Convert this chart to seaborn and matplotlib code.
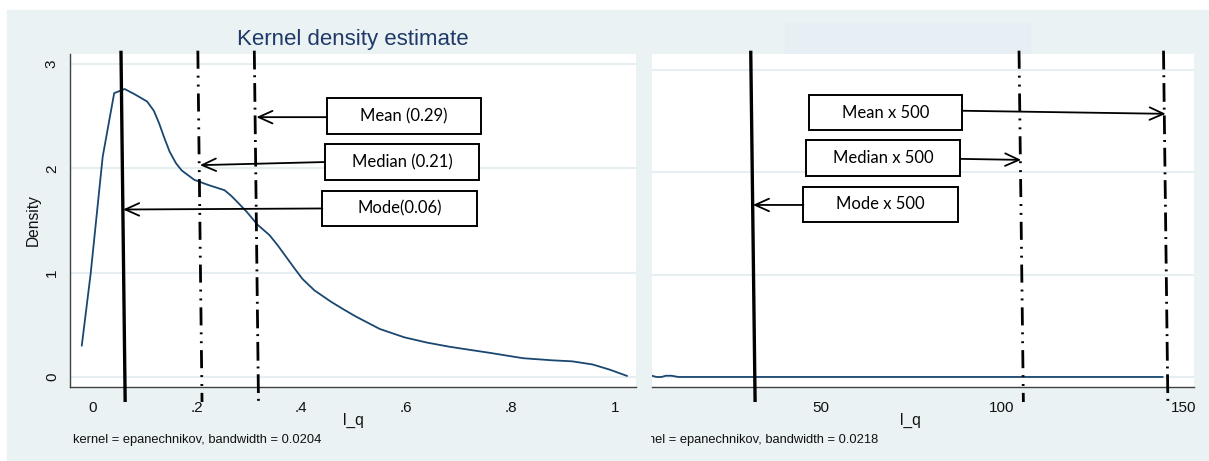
import matplotlib
matplotlib.use("Agg")
import matplotlib.pyplot as plt
import seaborn as sns
from matplotlib.patches import Rectangle
from matplotlib.transforms import Bbox, TransformedBbox

# Density curve of l_q (left panel)
lq_x = [-0.020, -0.003, 0.020, 0.042, 0.062, 0.081, 0.105, 0.118, 0.128, 0.138,
        0.148, 0.160, 0.171, 0.195, 0.222, 0.253, 0.265, 0.277, 0.296, 0.316,
        0.339, 0.355, 0.371, 0.387, 0.402, 0.425, 0.457, 0.480, 0.504, 0.550,
        0.597, 0.640, 0.683, 0.762, 0.824, 0.879, 0.918, 0.957, 0.990, 1.023]
lq_density = [0.30, 0.99, 2.11, 2.72, 2.76, 2.71, 2.64, 2.55, 2.43, 2.29,
              2.16, 2.05, 1.98, 1.89, 1.84, 1.79, 1.74, 1.68, 1.58, 1.46,
              1.36, 1.26, 1.15, 1.04, 0.94, 0.83, 0.72, 0.65, 0.58, 0.46,
              0.38, 0.33, 0.29, 0.23, 0.18, 0.16, 0.15, 0.12, 0.07, 0.01]

# Density curve of l_q x 500 (right panel, cropped)
lq500_x = [3.6, 4.8, 6.2, 7.4, 9.0, 10.8, 144.3]
lq500_density = [0.012, 0.0, 0.0, 0.012, 0.012, 0.0, 0.0]

# Mode, median, mean markers
stat_names = ["Mode", "Median", "Mean"]
left_stat_pos = [0.059, 0.206, 0.314]
left_labels = ["Mode(0.06)", "Median (0.21)", "Mean (0.29)"]
right_stat_pos = [31.4, 105.3, 145.1]
right_labels = ["Mode x 500", "Median x 500", "Mean x 500"]

left_xticks = [0, 0.2, 0.4, 0.6, 0.8, 1]
left_xticklabels = ["0", ".2", ".4", ".6", ".8", "1"]
left_yticks = [0, 1, 2, 3]
right_xticks = [50, 100, 150]

# layout for the label boxes: (x0, x1, y0, y1, arrow_start_y, arrow_end_y)
left_boxes = [(0.440, 0.735, 1.449, 1.784, 1.615, 1.605),
              (0.445, 0.740, 1.887, 2.232, 2.06, 2.03),
              (0.449, 0.744, 2.325, 2.670, 2.49, 2.49)]
right_boxes = [(45.3, 87.8, 1.51, 1.86, 1.68, 1.68),
               (46.0, 88.5, 1.96, 2.315, 2.13, 2.12),
               (46.8, 89.1, 2.41, 2.755, 2.60, 2.57)]

navy = "#1a476f"
bg = "#eaf2f3"
grid_col = "#e6eef1"
line_styles = ["-", (0, (13, 5, 1.4, 5, 1.4, 5)), (0, (13.5, 4.2, 1.4, 4.2))]

sns.set_style("white")
plt.rcParams["font.family"] = ["Liberation Sans", "DejaVu Sans"]
plt.rcParams["lines.scale_dashes"] = False

fig = plt.figure(figsize=(12.09, 4.61), dpi=100, facecolor="white")
fig.patches.append(Rectangle((7 / 1209, 0), 1, (461 - 10) / 461,
                             transform=fig.transFigure, color=bg, zorder=-10))
# faint box where the second title was blanked out
fig.patches.append(Rectangle((785 / 1209, 1 - 54 / 461), 245 / 1209, 31 / 461,
                             transform=fig.transFigure, color="#e8eff4", zorder=-9))

ax1 = fig.add_axes([70 / 1209, 0.1605, 566 / 1209, 0.7223])
ax2 = fig.add_axes([652 / 1209, 0.1605, 542 / 1209, 0.7223])


def style_axes(ax, show_left):
    ax.set_facecolor("white")
    for s in ["top", "right"]:
        ax.spines[s].set_visible(False)
    ax.spines["left"].set_visible(show_left)
    for s in ["left", "bottom"]:
        ax.spines[s].set_color("#404040")
        ax.spines[s].set_linewidth(1.0)
    ax.tick_params(axis="x", direction="out", length=6, width=1,
                   color="#404040", labelsize=11, labelcolor="#111111", pad=4)
    ax.tick_params(axis="y", direction="out", length=6, width=1,
                   color="#404040", labelsize=11, labelcolor="#111111", pad=2)
    ax.set_xlabel("")
    ax.set_ylabel("")


def draw_stats(ax, positions, labels, boxes, lean):
    for pos, ls, lab, box in zip(positions, line_styles, labels, boxes):
        lw = 2.4 if ls == "-" else 2.0
        ax.plot([pos - lean, pos + lean], [1.01, -0.045], color="black", lw=lw,
                ls=ls, solid_capstyle="butt", dash_capstyle="butt",
                transform=ax.get_xaxis_transform(), clip_on=False, zorder=5)
        x0, x1, y0, y1, ya, yb = box
        ax.add_patch(Rectangle((x0, y0), x1 - x0, y1 - y0, facecolor="white",
                               edgecolor="black", lw=1.4, zorder=6))
        ax.text((x0 + x1) / 2, (y0 + y1) / 2, lab, ha="center", va="center",
                fontsize=12, family=["Lato", "DejaVu Sans"], color="black", zorder=7)
        start = x0 if pos < x0 else x1
        ax.annotate("", xy=(pos, yb), xytext=(start, ya),
                    arrowprops=dict(arrowstyle="->,head_length=1.0,head_width=0.45",
                                    color="black", lw=1.3, shrinkA=0, shrinkB=0),
                    zorder=6)


# ---- left panel
sns.lineplot(x=lq_x, y=lq_density, ax=ax1, color=navy, lw=1.3,
             estimator=None, sort=False, zorder=4)
ax1.set_xlim(-0.0425, 1.040)
ax1.set_ylim(-0.096, 3.095)
ax1.set_xticks(left_xticks)
ax1.set_xticklabels(left_xticklabels)
ax1.set_yticks(left_yticks)
ax1.set_yticklabels([str(v) for v in left_yticks], rotation=90, va="center")
for v in left_yticks:
    ax1.axhline(v, color=grid_col, lw=1.5, zorder=0)
style_axes(ax1, True)
draw_stats(ax1, left_stat_pos, left_labels, left_boxes, 0.004)

# ---- right panel (cropped screenshot)
sns.lineplot(x=lq500_x, y=lq500_density, ax=ax2, color=navy, lw=1.3,
             estimator=None, sort=False, zorder=4)
ax2.set_xlim(3.6, 152.9)
ax2.set_ylim(-0.098, 3.154)
ax2.set_xticks(right_xticks)
ax2.set_yticks([])
for v in left_yticks:
    ax2.axhline(v, color=grid_col, lw=1.5, zorder=0)
style_axes(ax2, False)
draw_stats(ax2, right_stat_pos, right_labels, right_boxes, 0.6)

# ---- titles and notes
fig.text(353 / 1209, 1 - 39 / 461, "Kernel density estimate", ha="center",
         va="center", fontsize=16, color="#1f3a68")
fig.text(33 / 1209, 1 - 220 / 461, "Density", rotation=90, ha="center",
         va="center", fontsize=11.2, color="#111111")
fig.text(353 / 1209, 1 - 420 / 461, "l_q", ha="center", va="center",
         fontsize=11.2, color="#111111")
fig.text(910 / 1209, 1 - 420 / 461, "l_q", ha="center", va="center",
         fontsize=11.2, color="#111111")
fig.text(73 / 1209, 1 - 440 / 461, "kernel = epanechnikov, bandwidth = 0.0204",
         ha="left", va="center", fontsize=9.3, color="#111111")
note2 = fig.text(630 / 1209, 1 - 440 / 461, "kernel = epanechnikov, bandwidth = 0.0218",
                 ha="left", va="center", fontsize=9.3, color="#111111")
note2.set_clip_box(TransformedBbox(Bbox([[651 / 1209, 0], [1, 1]]), fig.transFigure))
note2.set_clip_on(True)

fig.savefig("out.png", dpi=100, facecolor="white")
